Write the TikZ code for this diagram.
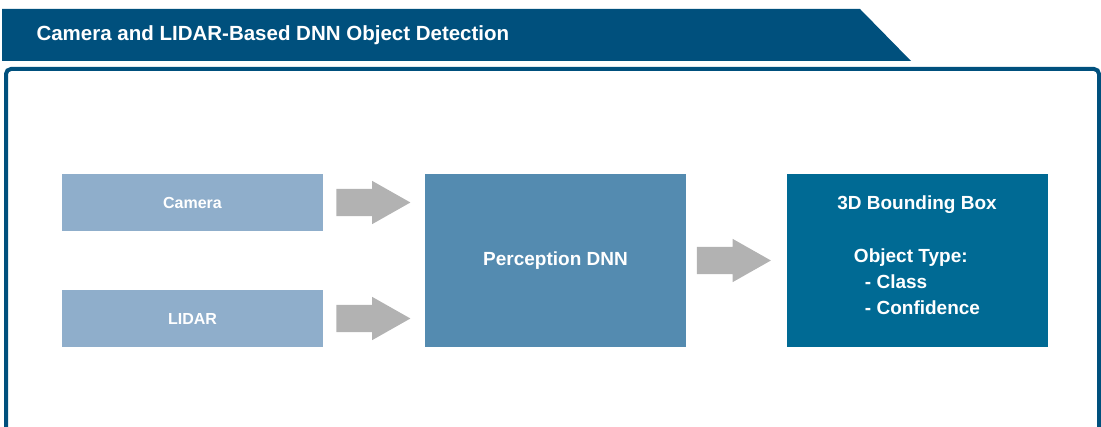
\documentclass[tikz,border=0pt]{standalone}
\usepackage{fontspec}
\setmainfont{Liberation Sans}
\usepackage{xcolor}
\usetikzlibrary{shapes.arrows, positioning, calc}

\definecolor{bannerblue}{RGB}{0,80,125}
\definecolor{inblue}{RGB}{143,174,203}
\definecolor{dnnblue}{RGB}{84,139,176}
\definecolor{outblue}{RGB}{0,106,148}

\begin{document}
\begin{tikzpicture}[
    x=1pt, y=-1pt,
    box/.style={rectangle, inner sep=0pt, text=white, font=\bfseries, align=center},
    inbox/.style={box, fill=inblue, minimum width=261pt, minimum height=57pt, font=\fontsize{16}{19}\selectfont\bfseries},
    bigbox/.style={box, minimum width=261pt, minimum height=173pt, font=\fontsize{19}{26}\selectfont\bfseries},
    flow/.style={single arrow, fill=gray!60, inner sep=0pt, text height=27pt, text depth=0pt, text width=0pt,
                 minimum height=74pt, minimum width=43pt, anchor=tip,
                 single arrow head extend=8pt, single arrow tip angle=59, shape border rotate=0},
]
\useasboundingbox (0,0) rectangle (1101,427);

% ---- Title banner ----
\fill[bannerblue] (2,9) -- (860,9) -- (911,61) -- (2,61) -- cycle;
\node[anchor=west, text=white, font=\fontsize{20.5}{24}\selectfont\bfseries] (title) at (33,35) {Camera and LIDAR-Based DNN Object Detection};

% ---- Frame ----
\draw[bannerblue, line width=4pt, rounded corners=5pt] (6,440) -- (6,69) -- (1099,69) -- (1099,440);

% ---- Inputs ----
\node[inbox] (cam) at (192.5,202.5) {Camera};
\node[inbox] (lidar) at (192.5,318.5) {LIDAR};

% ---- DNN and output ----
\node[bigbox, fill=dnnblue] (dnn) at (555.5,260.5) {Perception DNN};
\node[bigbox, fill=outblue] (out) at (917,260.5) {\begin{tabular}{@{}c@{}}3D Bounding Box\\[27pt]
  \begin{tabular}{@{}l@{}}Object Type:\\\hspace{11pt}- Class\\\hspace{11pt}- Confidence\rule[-16pt]{0pt}{1pt}\end{tabular}\end{tabular}};

% ---- Block arrows ----
\node[flow] (a1) at ($(cam.east -| dnn.west)+(-14,0)$) {};
\node[flow] (a2) at ($(lidar.east -| dnn.west)+(-14,0)$) {};
\node[flow] (a3) at ($(out.west)+(-15,0)$) {};

\end{tikzpicture}
\end{document}
